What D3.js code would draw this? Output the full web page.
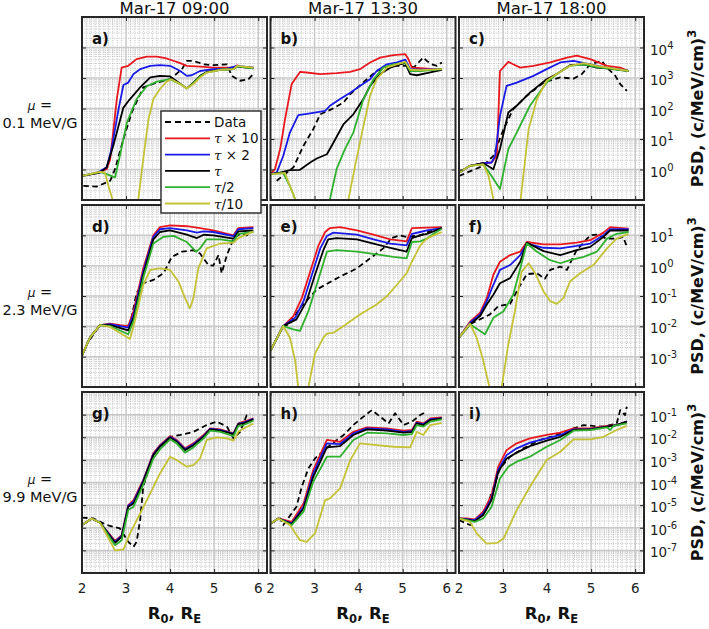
<!DOCTYPE html>
<html><head><meta charset="utf-8">
<script src="https://cdn.jsdelivr.net/npm/d3@7"></script>
<style>body{margin:0;background:#fff} svg{display:block;font-family:"DejaVu Sans",sans-serif}</style>
</head><body><svg id="c" width="709" height="629"></svg>
<script>
// ---------------- data (R0 in Earth radii, log10 PSD in (c/MeV/cm)^3) ----------------
const columnTitles = ["Mar-17 09:00", "Mar-17 13:30", "Mar-17 18:00"];
const muValues = ["0.1 MeV/G", "2.3 MeV/G", "9.9 MeV/G"];
const panelLetters = [["a)", "b)", "c)"], ["d)", "e)", "f)"], ["g)", "h)", "i)"]];
const xDomain = [2, 6.2];
const xTicks = [2, 3, 4, 5, 6];
const rowExpDomains = [[-1, 5], [-4, 2], [-8, 0]];
const rowTickExps = [[0, 1, 2, 3, 4], [-3, -2, -1, 0, 1], [-7, -6, -5, -4, -3, -2, -1]];
const seriesKeys = ["data", "x10", "x2", "t", "half", "tenth"];
const seriesLabels = ["Data", "τ × 10", "τ × 2", "τ", "τ/2", "τ/10"];
const seriesColors = ["#000000", "#e8191e", "#1a1ae6", "#000000", "#2fb02f", "#c4c236"];

const panel_a = {
  data: [[2.03,-0.54],[2.33,-0.56],[2.64,-0.37],[2.75,0.01],[2.94,1.0],[3.13,1.87],[3.39,2.69],[3.70,2.85],[4.0,2.96],[4.27,3.29],[4.38,3.56],[4.53,3.56],[4.76,3.45],[4.98,3.42],[5.29,3.45],[5.40,3.07],[5.59,2.91],[5.78,2.96],[5.89,3.13]],
  x10: [[2.0,-0.21],[2.33,-0.12],[2.56,0.01],[2.64,0.34],[2.79,2.31],[2.90,3.34],[3.05,3.40],[3.24,3.62],[3.47,3.70],[3.70,3.70],[3.92,3.64],[4.23,3.49],[4.38,3.40],[4.68,3.37],[4.98,3.34],[5.44,3.34],[5.52,3.42],[5.59,3.36],[5.89,3.34]],
  x2: [[2.0,-0.21],[2.33,-0.12],[2.56,0.07],[2.67,0.67],[2.83,1.98],[2.94,2.77],[3.05,2.85],[3.17,3.13],[3.32,3.29],[3.55,3.40],[3.77,3.42],[4.0,3.40],[4.23,3.23],[4.38,3.07],[4.49,3.09],[4.68,3.23],[4.98,3.29],[5.29,3.31],[5.52,3.40],[5.89,3.34]],
  t: [[2.0,-0.21],[2.41,-0.10],[2.56,0.07],[2.71,0.78],[2.94,2.03],[3.09,2.31],[3.32,2.69],[3.55,3.02],[3.77,3.07],[4.0,3.05],[4.19,2.85],[4.38,2.66],[4.53,2.85],[4.68,3.07],[4.83,3.20],[5.14,3.27],[5.44,3.29],[5.52,3.38],[5.89,3.32]],
  half: [[2.0,-0.21],[2.41,-0.08],[2.56,-0.15],[2.75,-0.26],[2.86,0.45],[3.02,1.54],[3.24,2.31],[3.47,2.73],[3.70,2.88],[4.0,2.96],[4.23,2.80],[4.38,2.66],[4.53,2.83],[4.68,3.05],[4.83,3.18],[5.14,3.27],[5.44,3.29],[5.52,3.38],[5.89,3.32]],
  tenth: [[2.0,-0.21],[2.41,-0.08],[2.52,-0.10],[2.60,-0.54],[2.69,-0.97],[3.0,-3.0],[3.28,-0.97],[3.39,0.34],[3.51,1.65],[3.62,2.31],[3.77,2.64],[3.92,2.88],[4.03,2.96],[4.23,2.80],[4.38,2.66],[4.53,2.80],[4.68,3.02],[4.83,3.18],[5.14,3.27],[5.44,3.29],[5.52,3.40],[5.89,3.34]]
};
const panel_b = {
  data: [[2.14,-0.37],[2.52,0.07],[2.75,0.78],[2.97,1.32],[3.13,1.81],[3.39,1.98],[3.66,2.20],[3.81,2.47],[4.19,2.96],[4.41,3.23],[4.79,3.40],[5.17,3.40],[5.25,3.34],[5.47,3.67],[5.55,3.56],[5.66,3.45],[5.78,3.40],[5.89,3.51]],
  x10: [[2.0,-0.15],[2.10,0.01],[2.22,0.67],[2.33,1.65],[2.48,2.80],[2.67,3.20],[2.82,3.18],[3.13,3.13],[3.50,3.16],[3.81,3.20],[4.03,3.29],[4.26,3.51],[4.49,3.67],[4.79,3.75],[5.06,3.78],[5.13,3.62],[5.21,3.34],[5.40,3.32],[5.70,3.29],[5.89,3.29]],
  x2: [[2.0,-0.15],[2.14,-0.10],[2.29,0.45],[2.44,1.21],[2.63,1.78],[2.90,1.84],[3.24,1.92],[3.35,2.09],[3.58,2.31],[3.81,2.52],[4.03,2.74],[4.26,2.96],[4.41,3.23],[4.64,3.45],[4.87,3.51],[5.06,3.60],[5.17,3.29],[5.40,3.27],[5.89,3.29]],
  t: [[2.0,-0.15],[2.22,-0.10],[2.44,-0.02],[2.67,-0.01],[2.90,0.23],[3.05,0.36],[3.28,0.50],[3.39,0.78],[3.66,1.49],[3.88,1.81],[4.11,2.31],[4.26,2.74],[4.49,3.13],[4.72,3.34],[4.94,3.45],[5.06,3.49],[5.17,3.13],[5.32,3.09],[5.55,3.16],[5.89,3.27]],
  half: [[2.0,-0.15],[2.29,-0.12],[2.44,-0.54],[2.56,-0.97],[2.90,-3.0],[3.35,-0.97],[3.50,0.01],[3.69,0.67],[3.88,1.21],[4.11,2.31],[4.34,2.96],[4.56,3.34],[4.79,3.45],[5.06,3.51],[5.17,3.23],[5.40,3.23],[5.89,3.29]],
  tenth: [[2.0,-0.15],[2.33,-0.12],[2.44,-0.54],[2.56,-0.97],[3.20,-3.0],[3.77,-0.97],[3.92,0.12],[4.11,1.43],[4.26,2.42],[4.41,2.96],[4.64,3.34],[4.87,3.45],[5.06,3.53],[5.17,3.27],[5.40,3.26],[5.89,3.29]]
};
const panel_c = {
  data: [[2.0,-0.21],[2.55,0.12],[2.78,0.45],[3.01,1.32],[3.23,1.98],[3.54,2.42],[3.92,2.85],[4.30,3.02],[4.60,2.98],[4.79,3.13],[4.98,3.45],[5.24,3.56],[5.36,3.34],[5.55,3.07],[5.66,2.80],[5.81,2.58]],
  x10: [[2.0,-0.10],[2.25,0.12],[2.55,0.21],[2.74,0.23],[2.86,0.45],[2.93,3.23],[3.12,3.53],[3.23,3.45],[3.39,3.34],[3.69,3.40],[4.07,3.51],[4.45,3.67],[4.67,3.73],[4.98,3.62],[5.36,3.40],[5.66,3.34],[5.85,3.23]],
  x2: [[2.0,-0.10],[2.25,0.12],[2.55,0.21],[2.74,0.23],[2.82,0.45],[2.93,1.76],[3.08,2.74],[3.31,2.85],[3.69,3.07],[3.99,3.29],[4.30,3.51],[4.60,3.56],[4.98,3.45],[5.36,3.34],[5.85,3.23]],
  t: [[2.0,-0.10],[2.25,0.12],[2.55,0.21],[2.78,0.01],[2.93,0.67],[3.12,1.87],[3.31,2.09],[3.61,2.52],[3.99,2.96],[4.22,3.13],[4.52,3.42],[4.83,3.45],[5.13,3.34],[5.43,3.31],[5.85,3.23]],
  half: [[2.0,-0.10],[2.25,0.12],[2.55,0.17],[2.74,-0.21],[2.93,-0.64],[3.12,0.67],[3.31,1.21],[3.61,2.09],[3.99,2.85],[4.22,3.13],[4.52,3.40],[4.83,3.45],[5.13,3.36],[5.85,3.23]],
  tenth: [[2.0,-0.10],[2.25,0.12],[2.55,0.17],[2.67,-0.21],[2.78,-0.97],[3.10,-3.0],[3.40,-0.97],[3.58,1.32],[3.77,2.31],[3.99,2.91],[4.22,3.13],[4.52,3.40],[4.83,3.49],[5.13,3.40],[5.85,3.23]]
};
const panel_d = {
  data: [[2.18,-2.43],[2.41,-1.96],[2.86,-2.0],[3.09,-1.96],[3.24,-0.90],[3.39,-0.58],[3.62,-0.47],[3.85,-0.25],[4.04,0.29],[4.27,0.46],[4.53,0.51],[4.68,0.40],[4.87,0.02],[4.98,0.0],[5.10,0.35],[5.17,-0.25],[5.29,0.35],[5.44,0.89],[5.59,1.05],[5.74,1.0],[5.82,1.11]],
  x10: [[2.0,-2.97],[2.18,-2.37],[2.41,-1.96],[2.64,-1.91],[2.86,-1.96],[3.05,-1.99],[3.17,-1.50],[3.39,-0.09],[3.62,1.0],[3.77,1.27],[4.0,1.33],[4.38,1.30],[4.68,1.24],[4.98,1.16],[5.44,1.0],[5.55,1.24],[5.89,1.27]],
  x2: [[2.0,-2.97],[2.18,-2.37],[2.41,-1.96],[2.64,-1.93],[3.05,-2.04],[3.17,-1.61],[3.39,-0.20],[3.62,0.95],[3.77,1.20],[4.0,1.24],[4.38,1.16],[4.61,1.09],[4.76,1.13],[4.98,1.11],[5.44,0.97],[5.55,1.20],[5.89,1.24]],
  t: [[2.0,-2.97],[2.18,-2.37],[2.41,-1.96],[2.64,-1.96],[3.05,-2.13],[3.17,-1.72],[3.39,-0.30],[3.62,0.87],[3.77,1.11],[4.0,1.16],[4.38,1.02],[4.61,0.91],[4.76,1.02],[4.98,1.0],[5.44,0.89],[5.55,1.13],[5.89,1.16]],
  half: [[2.0,-2.97],[2.18,-2.37],[2.41,-1.96],[2.64,-1.99],[3.05,-2.26],[3.17,-1.83],[3.39,-0.41],[3.62,0.73],[3.85,0.95],[4.08,0.98],[4.38,0.78],[4.59,0.46],[4.68,0.57],[4.83,0.87],[5.14,0.87],[5.44,0.80],[5.55,1.05],[5.89,1.11]],
  tenth: [[2.0,-2.97],[2.18,-2.37],[2.41,-1.96],[2.64,-2.02],[3.09,-2.42],[3.20,-1.83],[3.39,-0.63],[3.55,-0.14],[3.77,-0.09],[4.0,-0.14],[4.19,-0.52],[4.34,-1.07],[4.45,-1.41],[4.53,-1.07],[4.64,-0.09],[4.83,0.57],[5.14,0.73],[5.44,0.76],[5.55,0.91],[5.89,1.13]]
};
const panel_e = {
  data: [[2.0,-2.80],[2.29,-1.99],[2.44,-1.93],[2.67,-1.39],[3.05,-0.79],[3.24,-0.63],[3.58,-0.36],[3.96,-0.09],[4.26,0.24],[4.56,0.57],[4.75,0.91],[4.94,1.0],[5.09,0.95],[5.40,1.0],[5.55,1.10],[5.89,1.24]],
  x10: [[2.0,-2.80],[2.29,-1.99],[2.52,-1.66],[2.71,-1.07],[2.90,-0.20],[3.09,0.67],[3.24,1.11],[3.35,1.24],[3.58,1.27],[3.96,1.16],[4.34,1.02],[4.72,0.87],[5.09,0.80],[5.21,1.24],[5.89,1.27]],
  x2: [[2.0,-2.80],[2.29,-1.99],[2.56,-1.72],[2.75,-1.17],[2.94,-0.30],[3.13,0.57],[3.28,0.98],[3.43,1.09],[3.96,1.02],[4.34,0.87],[4.72,0.73],[5.09,0.67],[5.21,1.05],[5.40,1.11],[5.55,1.16],[5.89,1.24]],
  t: [[2.0,-2.80],[2.29,-1.99],[2.59,-1.77],[2.82,-1.17],[3.01,-0.30],[3.20,0.51],[3.31,0.87],[3.50,0.91],[3.96,0.87],[4.34,0.73],[4.72,0.59],[5.09,0.46],[5.21,0.91],[5.40,1.0],[5.55,1.05],[5.89,1.24]],
  half: [[2.0,-2.80],[2.29,-1.99],[2.52,-2.10],[2.67,-2.15],[2.86,-1.50],[3.05,-0.63],[3.28,0.46],[3.50,0.51],[3.96,0.46],[4.41,0.37],[4.79,0.29],[5.09,0.24],[5.21,0.78],[5.40,0.80],[5.55,0.89],[5.70,1.05],[5.89,1.22]],
  tenth: [[2.0,-2.80],[2.29,-1.99],[2.44,-2.37],[2.56,-3.13],[2.63,-4.0],[2.75,-5.0],[2.86,-4.0],[3.01,-2.91],[3.20,-2.37],[3.28,-2.24],[3.43,-2.21],[3.66,-1.99],[4.03,-1.61],[4.41,-1.28],[4.64,-1.01],[4.87,-0.63],[5.09,-0.25],[5.21,0.13],[5.40,0.67],[5.55,0.89],[5.70,1.0],[5.89,1.11]]
};
const panel_f = {
  data: [[2.0,-2.37],[2.25,-1.93],[2.70,-1.61],[2.89,-1.34],[3.16,-1.26],[3.35,-0.74],[3.54,-0.28],[3.77,-0.25],[3.95,-0.43],[4.07,-0.14],[4.30,-0.03],[4.45,-0.14],[4.67,0.51],[4.98,1.0],[5.13,1.02],[5.36,0.89],[5.58,0.89],[5.73,0.95],[5.81,0.62]],
  x10: [[2.0,-2.37],[2.25,-1.85],[2.48,-1.55],[2.63,-1.07],[2.78,-0.30],[2.93,0.13],[3.16,0.35],[3.39,0.46],[3.54,0.78],[3.92,0.70],[4.30,0.70],[4.67,0.76],[4.98,0.84],[5.28,1.09],[5.43,1.27],[5.85,1.22]],
  x2: [[2.0,-2.37],[2.25,-1.88],[2.48,-1.61],[2.63,-1.17],[2.78,-0.63],[2.93,-0.14],[3.16,0.02],[3.39,0.35],[3.54,0.73],[3.92,0.59],[4.30,0.57],[4.67,0.65],[4.98,0.73],[5.28,1.0],[5.43,1.20],[5.85,1.20]],
  t: [[2.0,-2.37],[2.25,-1.93],[2.48,-1.66],[2.63,-1.28],[2.78,-0.96],[2.93,-0.58],[3.16,-0.41],[3.39,0.13],[3.54,0.76],[3.92,0.48],[4.30,0.35],[4.67,0.51],[4.98,0.62],[5.28,0.95],[5.43,1.16],[5.85,1.16]],
  half: [[2.0,-2.37],[2.25,-1.93],[2.59,-2.26],[2.78,-1.72],[3.01,-1.50],[3.23,-0.96],[3.39,-0.09],[3.54,0.73],[3.77,0.46],[4.07,0.18],[4.30,0.08],[4.52,0.18],[4.83,0.29],[5.13,0.46],[5.36,0.89],[5.58,1.05],[5.85,1.11]],
  tenth: [[2.0,-2.37],[2.25,-1.91],[2.40,-2.37],[2.55,-3.13],[2.69,-4.0],[2.82,-5.0],[2.97,-4.0],[3.12,-2.59],[3.27,-1.50],[3.42,-0.20],[3.58,0.08],[3.73,-0.25],[3.92,-0.85],[4.07,-1.17],[4.22,-1.26],[4.37,-1.07],[4.52,-0.52],[4.75,-0.25],[5.05,0.02],[5.36,0.57],[5.58,0.89],[5.85,1.05]]
};
const panel_g = {
  data: [[2.0,-5.55],[2.26,-5.59],[2.56,-5.88],[2.86,-6.03],[3.05,-6.62],[3.17,-6.84],[3.24,-6.62],[3.32,-5.66],[3.39,-4.19],[3.62,-2.71],[4.0,-1.98],[4.23,-1.90],[4.53,-1.76],[4.83,-1.46],[5.06,-1.31],[5.29,-1.53],[5.44,-2.05],[5.59,-1.76],[5.74,-1.02],[5.82,-0.94]],
  x10: [[2.0,-5.88],[2.22,-5.59],[2.41,-5.78],[2.75,-6.58],[2.90,-6.33],[3.05,-5.0],[3.17,-4.78],[3.39,-3.89],[3.62,-2.71],[3.77,-2.35],[4.0,-1.95],[4.15,-2.12],[4.34,-2.49],[4.53,-2.27],[4.76,-1.90],[4.91,-1.61],[5.14,-1.65],[5.44,-1.83],[5.55,-1.39],[5.67,-1.31],[5.78,-1.24],[5.89,-1.17]],
  x2: [[2.0,-5.88],[2.22,-5.59],[2.41,-5.78],[2.75,-6.62],[2.90,-6.36],[3.05,-5.03],[3.17,-4.85],[3.39,-3.93],[3.62,-2.75],[3.77,-2.38],[4.0,-1.98],[4.15,-2.16],[4.34,-2.53],[4.53,-2.31],[4.76,-1.94],[4.91,-1.63],[5.14,-1.68],[5.44,-1.84],[5.55,-1.40],[5.67,-1.35],[5.89,-1.19]],
  t: [[2.0,-5.88],[2.22,-5.59],[2.41,-5.78],[2.75,-6.67],[2.90,-6.40],[3.05,-5.07],[3.17,-4.93],[3.39,-3.97],[3.62,-2.79],[3.77,-2.42],[4.0,-2.01],[4.15,-2.20],[4.34,-2.57],[4.53,-2.35],[4.76,-1.98],[4.91,-1.65],[5.14,-1.71],[5.44,-1.86],[5.55,-1.42],[5.67,-1.39],[5.89,-1.21]],
  half: [[2.0,-5.88],[2.22,-5.59],[2.41,-5.78],[2.75,-6.77],[2.90,-6.55],[3.05,-5.22],[3.17,-5.07],[3.39,-4.11],[3.62,-2.94],[3.77,-2.54],[4.0,-2.09],[4.15,-2.27],[4.34,-2.68],[4.53,-2.45],[4.76,-2.05],[4.91,-1.71],[5.14,-1.76],[5.44,-1.95],[5.55,-1.50],[5.67,-1.46],[5.89,-1.27]],
  tenth: [[2.0,-5.88],[2.22,-5.59],[2.41,-5.78],[2.75,-7.0],[2.94,-6.96],[3.09,-6.25],[3.32,-5.37],[3.55,-4.48],[3.77,-3.60],[4.0,-2.86],[4.15,-3.01],[4.38,-3.30],[4.53,-3.23],[4.68,-2.94],[4.83,-2.12],[5.06,-2.01],[5.29,-2.05],[5.44,-2.15],[5.55,-1.76],[5.67,-1.61],[5.89,-1.39]]
};
const panel_h = {
  data: [[2.0,-5.81],[2.22,-5.59],[2.29,-5.88],[2.59,-5.07],[2.71,-4.19],[2.86,-3.38],[3.01,-2.94],[3.35,-2.35],[3.66,-1.90],[3.88,-1.46],[4.11,-1.09],[4.30,-0.80],[4.49,-1.09],[4.68,-1.39],[4.83,-0.94],[5.02,-1.46],[5.21,-1.31],[5.40,-1.02],[5.55,-0.85]],
  x10: [[2.0,-5.81],[2.18,-5.59],[2.48,-5.74],[2.75,-4.93],[2.97,-3.45],[3.28,-2.12],[3.58,-2.20],[3.88,-1.76],[4.19,-1.56],[4.64,-1.61],[5.02,-1.71],[5.21,-1.68],[5.32,-1.31],[5.47,-1.39],[5.63,-1.17],[5.89,-1.12]],
  x2: [[2.0,-5.81],[2.18,-5.59],[2.48,-5.81],[2.75,-5.07],[2.97,-3.60],[3.28,-2.27],[3.58,-2.30],[3.88,-1.83],[4.19,-1.61],[4.64,-1.65],[5.02,-1.76],[5.21,-1.73],[5.32,-1.36],[5.47,-1.42],[5.63,-1.20],[5.89,-1.17]],
  t: [[2.0,-5.81],[2.18,-5.59],[2.48,-5.84],[2.75,-5.15],[2.97,-3.75],[3.28,-2.45],[3.58,-2.39],[3.88,-1.90],[4.19,-1.65],[4.64,-1.71],[5.02,-1.80],[5.21,-1.77],[5.32,-1.39],[5.47,-1.46],[5.63,-1.24],[5.89,-1.17]],
  half: [[2.0,-5.81],[2.18,-5.59],[2.48,-5.88],[2.75,-5.29],[2.97,-3.97],[3.28,-2.86],[3.58,-2.86],[3.88,-2.12],[4.19,-1.80],[4.64,-1.83],[5.02,-1.90],[5.21,-1.86],[5.32,-1.46],[5.47,-1.53],[5.63,-1.31],[5.89,-1.21]],
  tenth: [[2.0,-5.81],[2.18,-5.59],[2.44,-5.88],[2.67,-6.55],[2.82,-6.62],[3.01,-6.25],[3.24,-4.78],[3.35,-4.70],[3.58,-4.26],[3.81,-3.01],[4.03,-2.27],[4.41,-2.35],[4.79,-2.42],[5.17,-2.45],[5.32,-1.76],[5.47,-1.90],[5.63,-1.46],[5.89,-1.36]]
};
const panel_i = {
  data: [[2.0,-5.66],[2.25,-5.88],[2.48,-5.51],[2.63,-5.07],[2.78,-4.26],[2.93,-3.38],[3.16,-2.86],[3.46,-2.49],[3.84,-2.12],[4.22,-1.90],[4.60,-1.61],[4.83,-1.46],[5.05,-1.50],[5.28,-1.53],[5.58,-1.39],[5.66,-0.80],[5.77,-1.02],[5.81,-0.65]],
  x10: [[2.0,-5.59],[2.17,-5.59],[2.36,-5.63],[2.55,-5.29],[2.74,-4.56],[2.89,-3.30],[3.08,-2.57],[3.31,-2.27],[3.61,-2.05],[3.99,-1.90],[4.30,-1.80],[4.60,-1.61],[4.98,-1.61],[5.36,-1.50],[5.58,-1.46],[5.81,-1.31]],
  x2: [[2.0,-5.59],[2.36,-5.66],[2.55,-5.37],[2.74,-4.71],[2.89,-3.45],[3.08,-2.79],[3.31,-2.49],[3.61,-2.24],[3.99,-2.05],[4.30,-1.90],[4.60,-1.65],[4.98,-1.64],[5.36,-1.53],[5.58,-1.46],[5.81,-1.31]],
  t: [[2.0,-5.59],[2.36,-5.71],[2.55,-5.44],[2.74,-4.78],[2.89,-3.53],[3.08,-2.94],[3.31,-2.68],[3.61,-2.39],[3.99,-2.15],[4.30,-1.98],[4.60,-1.68],[4.98,-1.65],[5.36,-1.53],[5.58,-1.46],[5.81,-1.31]],
  half: [[2.0,-5.59],[2.36,-5.74],[2.55,-5.59],[2.74,-5.07],[2.93,-3.82],[3.12,-3.30],[3.31,-3.08],[3.61,-2.86],[3.99,-2.42],[4.30,-2.12],[4.60,-1.71],[4.98,-1.68],[5.36,-1.56],[5.43,-1.68],[5.51,-1.50],[5.81,-1.39]],
  tenth: [[2.0,-5.59],[2.25,-5.74],[2.40,-6.25],[2.63,-6.70],[2.86,-6.67],[3.01,-6.48],[3.31,-5.22],[3.61,-4.19],[3.99,-3.01],[4.30,-2.64],[4.60,-2.09],[4.98,-2.09],[5.28,-1.98],[5.58,-1.68],[5.81,-1.50]]
};
const panels = [[panel_a, panel_b, panel_c], [panel_d, panel_e, panel_f], [panel_g, panel_h, panel_i]];

// ---------------- layout ----------------
const colLeft = [82, 270.5, 459], colW = 185;
const rowTop = [17, 205, 392], rowBot = [200, 387, 573];
const svg = d3.select("#c");
const defs = svg.append("defs");
const FRAME = "#262626";

panels.forEach((rowPanels, r) => {
  rowPanels.forEach((P, c) => {
    const x0 = colLeft[c], x1 = x0 + colW, y0 = rowTop[r], y1 = rowBot[r];
    const x = d3.scaleLinear().domain(xDomain).range([x0, x1]);
    const y = d3.scaleLog().domain(rowExpDomains[r].map(e => Math.pow(10, e))).range([y1, y0]);
    const g = svg.append("g");
    g.append("rect").attr("x", x0).attr("y", y0).attr("width", colW).attr("height", y1 - y0).attr("fill", "#fff");

    // minor grid
    const minorX = d3.range(21, 62).map(v => v / 10).filter(v => Math.abs(v - Math.round(v)) > 1e-6);
    g.selectAll(null).data(minorX).join("line")
      .attr("x1", d => x(d)).attr("x2", d => x(d)).attr("y1", y0).attr("y2", y1)
      .attr("stroke", "#a8a8a8").attr("stroke-width", 0.7).attr("stroke-dasharray", "1,1.3");
    const minorY = [];
    for (let e = rowExpDomains[r][0]; e < rowExpDomains[r][1]; e++)
      for (let k = 2; k <= 9; k++) minorY.push(k * Math.pow(10, e));
    g.selectAll(null).data(minorY).join("line")
      .attr("x1", x0).attr("x2", x1).attr("y1", d => y(d)).attr("y2", d => y(d))
      .attr("stroke", "#a8a8a8").attr("stroke-width", 0.7).attr("stroke-dasharray", "1,1.3");
    // major grid
    g.selectAll(null).data(xTicks.slice(1)).join("line")
      .attr("x1", d => x(d)).attr("x2", d => x(d)).attr("y1", y0).attr("y2", y1)
      .attr("stroke", "#c8c8c8").attr("stroke-width", 1.5);
    const majorY = d3.range(rowExpDomains[r][0] + 1, rowExpDomains[r][1]).map(e => Math.pow(10, e));
    g.selectAll(null).data(majorY).join("line")
      .attr("x1", x0).attr("x2", x1).attr("y1", d => y(d)).attr("y2", d => y(d))
      .attr("stroke", "#c8c8c8").attr("stroke-width", 1.5);

    // curves
    const id = "clip" + r + c;
    defs.append("clipPath").attr("id", id).append("rect")
      .attr("x", x0).attr("y", y0).attr("width", colW).attr("height", y1 - y0);
    const line = d3.line().x(d => x(d[0])).y(d => y(Math.pow(10, d[1])));
    const cg = g.append("g").attr("clip-path", `url(#${id})`);
    seriesKeys.forEach((k, i) => {
      cg.append("path").attr("d", line(P[k])).attr("fill", "none")
        .attr("stroke", seriesColors[i]).attr("stroke-width", 1.8)
        .attr("stroke-dasharray", i === 0 ? "5.5,3.5" : null)
        .attr("stroke-linejoin", "round");
    });

    // ticks (inward, all sides)
    const xAxB = d3.axisBottom(x).tickValues(xTicks).tickSize(-4).tickFormat("");
    const xAxT = d3.axisTop(x).tickValues(xTicks).tickSize(-4).tickFormat("");
    const yTickVals = rowTickExps[r].map(e => Math.pow(10, e));
    const yAxL = d3.axisLeft(y).tickValues(yTickVals).tickSize(-4).tickFormat("");
    const yAxR = d3.axisRight(y).tickValues(yTickVals).tickSize(-4).tickFormat("");
    [[xAxB, `translate(0,${y1})`], [xAxT, `translate(0,${y0})`], [yAxL, `translate(${x0},0)`], [yAxR, `translate(${x1},0)`]]
      .forEach(([ax, tr]) => {
        const a = g.append("g").attr("transform", tr).call(ax);
        a.select(".domain").remove();
        a.selectAll("line").attr("stroke", FRAME).attr("stroke-width", 1);
      });

    g.append("rect").attr("x", x0).attr("y", y0).attr("width", colW).attr("height", y1 - y0)
      .attr("fill", "none").attr("stroke", FRAME).attr("stroke-width", 2);

    g.append("text").attr("x", x0 + 10).attr("y", y0 + 27).attr("font-size", 15).attr("font-weight", "bold")
      .attr("fill", "#111").text(panelLetters[r][c]);

    // x tick labels on bottom row
    if (r === 2) {
      g.selectAll(null).data(xTicks).join("text")
        .attr("x", d => x(d)).attr("y", y1 + 20).attr("text-anchor", "middle")
        .attr("font-size", 13.5).attr("fill", "#222").text(d => d);
      const xl = g.append("text").attr("x", (x0 + x1) / 2).attr("y", y1 + 46).attr("text-anchor", "middle")
        .attr("font-size", 16.5).attr("font-weight", "bold").attr("fill", "#111");
      xl.append("tspan").text("R");
      xl.append("tspan").attr("font-size", 11.5).attr("dy", 4).text("0");
      xl.append("tspan").attr("dy", -4).text(", R");
      xl.append("tspan").attr("font-size", 11.5).attr("dy", 4).text("E");
    }
    // y tick labels on right column
    if (c === 2) {
      rowTickExps[r].forEach(e => {
        const t = g.append("text").attr("x", x1 + 6).attr("y", y(Math.pow(10, e)) + 7)
          .attr("font-size", 13.5).attr("fill", "#222");
        t.append("tspan").text("10");
        t.append("tspan").attr("dy", -6).attr("font-size", 10).text(e);
      });
      const cy = (y0 + y1) / 2;
      const yl = g.append("text").attr("transform", `translate(703,${cy}) rotate(-90)`)
        .attr("text-anchor", "middle").attr("font-size", 16).attr("font-weight", "bold").attr("fill", "#111");
      yl.append("tspan").text("PSD, (c/MeV/cm)");
      yl.append("tspan").attr("dy", -7).attr("font-size", 11.5).text("3");
    }
  });
});

// column titles
columnTitles.forEach((t, c) => {
  svg.append("text").attr("x", colLeft[c] + colW / 2).attr("y", 14).attr("text-anchor", "middle")
    .attr("font-size", 16.5).attr("fill", "#111").text(t);
});
// row labels
muValues.forEach((t, r) => {
  const cy = (rowTop[r] + rowBot[r]) / 2;
  const m = svg.append("text").attr("x", 40).attr("y", cy + 1).attr("text-anchor", "middle")
    .attr("font-size", 14.5).attr("fill", "#111");
  m.append("tspan").attr("font-style", "italic").attr("font-size", 12).text("μ");
  m.append("tspan").text(" =");
  svg.append("text").attr("x", 40).attr("y", cy + 19).attr("text-anchor", "middle")
    .attr("font-size", 14.5).attr("fill", "#111").text(t);
});

// legend (panel a)
const lg = svg.append("g");
lg.append("rect").attr("x", 161).attr("y", 111).attr("width", 100).attr("height", 102)
  .attr("fill", "#fff").attr("stroke", FRAME).attr("stroke-width", 1.4);
seriesLabels.forEach((lab, i) => {
  const yy = 122 + i * 16.3;
  lg.append("line").attr("x1", 165).attr("x2", 210).attr("y1", yy).attr("y2", yy)
    .attr("stroke", seriesColors[i]).attr("stroke-width", 1.8)
    .attr("stroke-dasharray", i === 0 ? "6,4" : null);
  const t = lg.append("text").attr("x", 214).attr("y", yy + 5).attr("font-size", 13.5).attr("fill", "#111");
  if (i === 0) t.text(lab);
  else {
    t.append("tspan").attr("font-style", "italic").attr("font-family", "DejaVu Serif").text("τ");
    t.append("tspan").text(lab.slice(1));
  }
});
</script></body></html>
